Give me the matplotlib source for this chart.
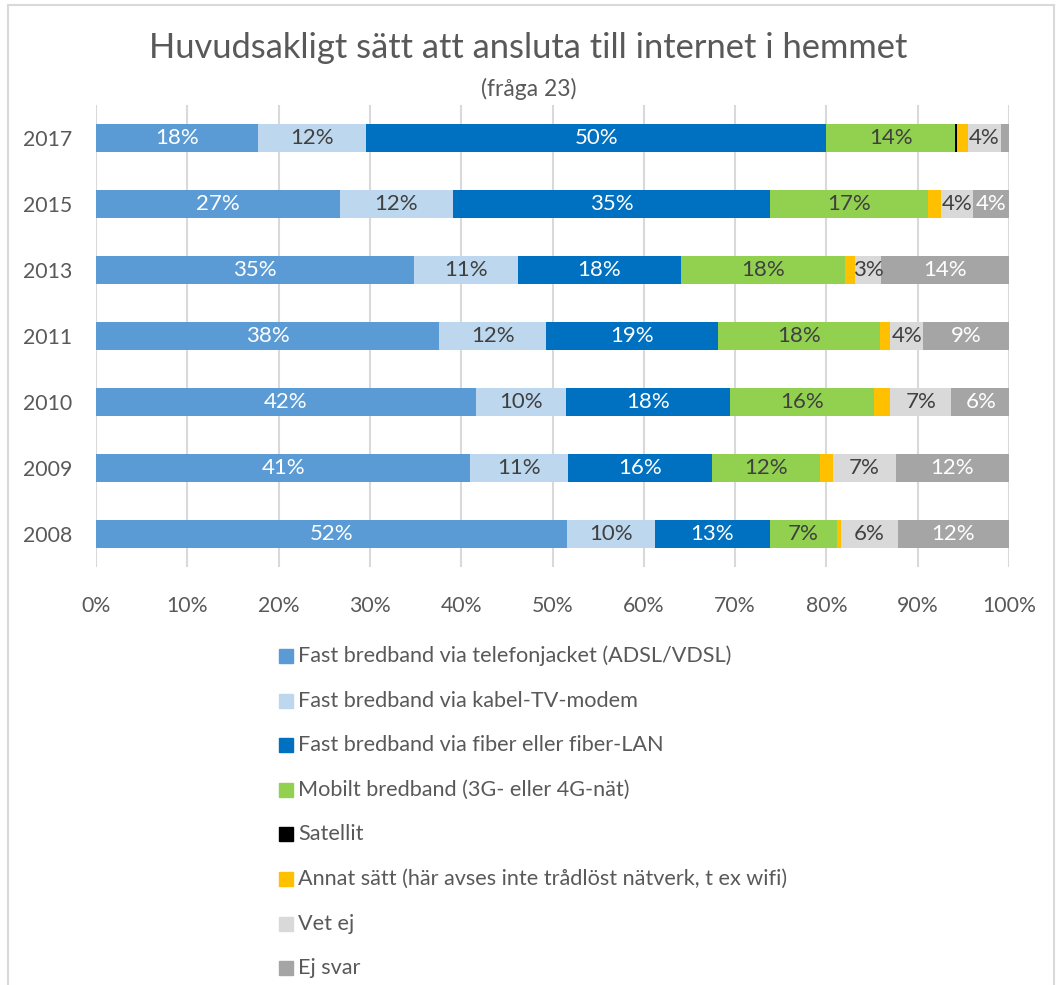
import matplotlib
matplotlib.use("Agg")
import matplotlib.pyplot as plt
from matplotlib.patches import Rectangle
import numpy as np

plt.rcParams['font.family'] = ['Lato', 'DejaVu Sans']

years = ["2017", "2015", "2013", "2011", "2010", "2009", "2008"]
series = [
    "Fast bredband via telefonjacket (ADSL/VDSL)",
    "Fast bredband via kabel-TV-modem",
    "Fast bredband via fiber eller fiber-LAN",
    "Mobilt bredband (3G- eller 4G-nät)",
    "Satellit",
    "Annat sätt (här avses inte trådlöst nätverk, t ex wifi)",
    "Vet ej",
    "Ej svar",
]
adsl   = [17.7, 26.7, 34.8, 37.6, 41.6, 41.0, 51.6]
kabel  = [11.9, 12.4, 11.4, 11.7,  9.9, 10.7,  9.6]
fiber  = [50.4, 34.7, 17.9, 18.8, 17.9, 15.8, 12.6]
mobilt = [14.1, 17.3, 17.9, 17.8, 15.8, 11.8,  7.4]
satellit = [0.2, 0.0, 0.0, 0.0, 0.0, 0.0, 0.0]
annat  = [1.2, 1.4, 1.1, 1.1, 1.8, 1.4, 0.4]
vetej  = [3.6, 3.6, 2.9, 3.6, 6.7, 6.9, 6.2]
ejsvar = [0.9, 3.9, 14.0, 9.4, 6.4, 12.4, 12.2]

data = [adsl, kabel, fiber, mobilt, satellit, annat, vetej, ejsvar]
colors = ["#5B9BD5", "#BDD7EE", "#0070C0", "#92D050", "#000000", "#FFC000", "#D9D9D9", "#A5A5A5"]
label_colors = ["white", "#404040", "white", "#404040", None, None, "#404040", "white"]

fig = plt.figure(figsize=(10.57, 9.85), dpi=100)
W, H = 1057, 985
ax = fig.add_axes([96 / W, 1 - 567 / H, (1009 - 96) / W, (567 - 105) / H])

y = np.arange(len(years))
left = np.zeros(len(years))
for vals, col, lc in zip(data, colors, label_colors):
    vals = np.array(vals)
    ax.barh(y, vals, left=left, height=0.41, color=col, zorder=3)
    if lc is not None:
        for yi, (l, v) in enumerate(zip(left, vals)):
            if v >= 2.5:
                ax.text(l + v / 2, yi, f"{int(round(v))}%", ha="center", va="center",
                        color=lc, fontsize=16, zorder=4)
    left = left + vals

ax.set_xlim(0, 100)
ax.set_ylim(len(years) - 0.5, -0.5)
ax.set_yticks(y)
ax.set_yticklabels(years)
ax.set_xticks(np.arange(0, 101, 10))
ax.set_xticklabels([f"{t}%" for t in range(0, 101, 10)])
ax.tick_params(axis="both", length=0, labelsize=15.3, labelcolor="#595959")
ax.tick_params(axis="x", pad=21)
ax.tick_params(axis="y", pad=17)
ax.grid(axis="x", color="#D9D9D9", linewidth=1.5, zorder=0)
for s in ax.spines.values():
    s.set_visible(False)

fig.text(0.5, 1 - 48 / H, "Huvudsakligt sätt att ansluta till internet i hemmet",
         ha="center", va="center", fontsize=24.8, color="#595959")
fig.text(0.5, 1 - 89 / H, "(fråga 23)", ha="center", va="center", fontsize=16.5, color="#595959")

# legend
y0 = 656
step = 44.6
box = 14
for i, (name, col) in enumerate(zip(series, colors)):
    yc = y0 + i * step
    fig.patches.append(Rectangle((279 / W, 1 - (yc + box / 2) / H), box / W, box / H,
                                 transform=fig.transFigure, color=col, figure=fig))
    fig.text(298 / W, 1 - yc / H, name, ha="left", va="center", fontsize=15.6, color="#595959")

# chart border
fig.patches.append(Rectangle((8 / W, -0.01), (W - 8 - 3) / W, 1 - 5 / H + 0.01,
                             transform=fig.transFigure, fill=False, edgecolor="#D9D9D9",
                             linewidth=1.5, figure=fig))

fig.savefig("out.png", dpi=100)
